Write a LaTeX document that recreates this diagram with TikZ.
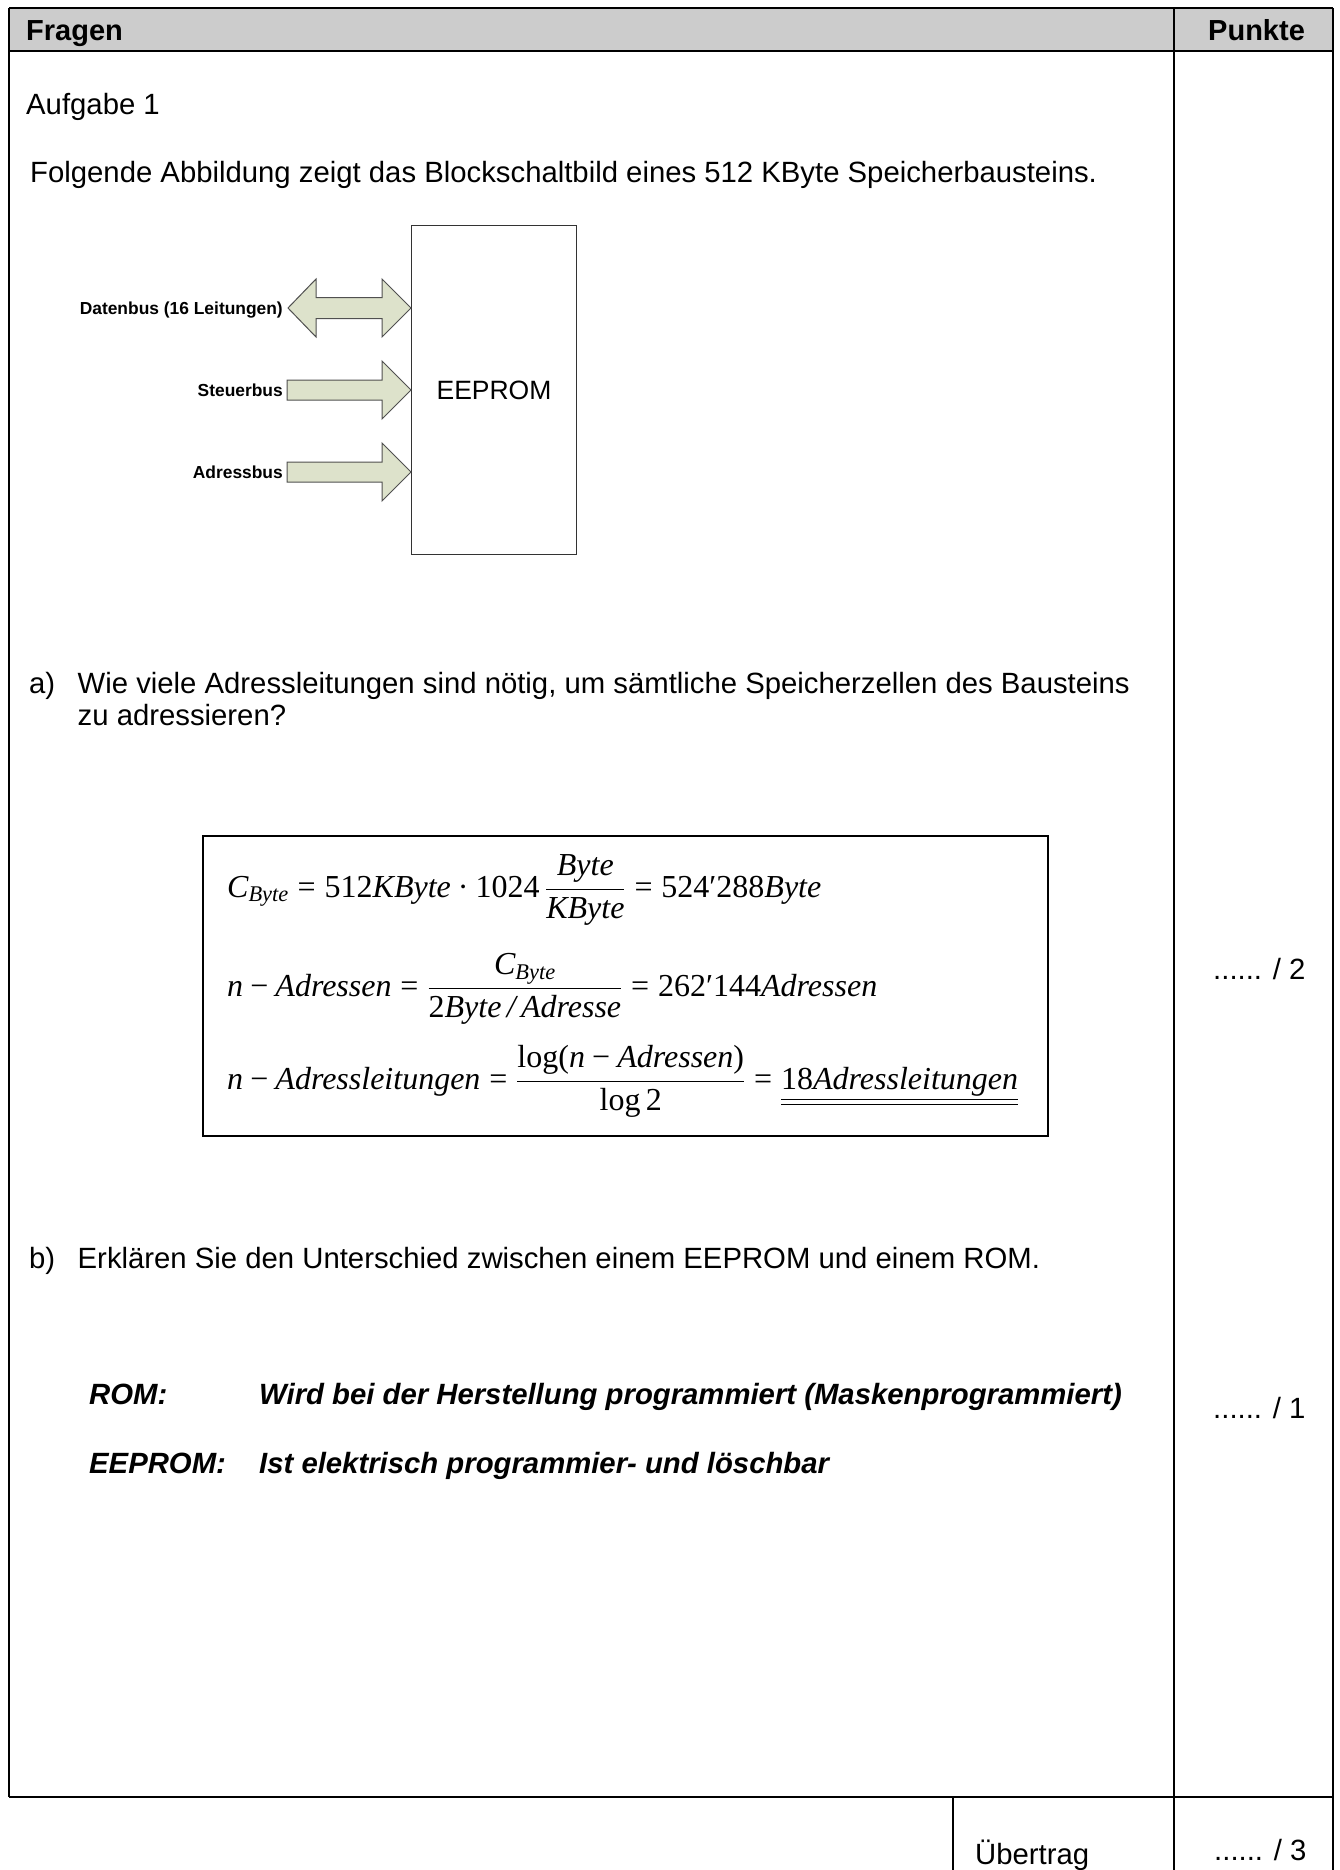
\RequirePackage{fix-cm}
\documentclass[tikz,border=0pt]{standalone}
\usepackage{amsmath}
\usepackage{fontspec}
\setmainfont{Liberation Sans}
\newfontfamily\tnr{Liberation Serif}
\newcommand\I[1]{\text{\tnr\itshape #1}}
\newcommand\R[1]{\text{\tnr #1}}
\definecolor{hdrgray}{HTML}{CCCCCC}
\definecolor{busfill}{HTML}{DDE2CB}
\definecolor{busline}{HTML}{505050}
\tikzset{
  txt/.style={inner sep=0pt, font=\fontsize{29.3}{33}\selectfont, anchor=base west},
  hdr/.style={inner sep=0pt, font=\fontsize{29}{33}\selectfont\bfseries, anchor=base west},
  lbl/.style={inner sep=0pt, font=\fontsize{17.4}{20}\selectfont\bfseries, anchor=base east},
  ans/.style={inner sep=0pt, font=\fontsize{29.3}{33}\selectfont\bfseries\itshape, anchor=base west},
  eq/.style={inner sep=0pt, font=\fontsize{32}{38}\selectfont, anchor=base west},
  bus/.style={fill=busfill, draw=busline, line width=1pt, line join=miter},
  thin/.style={line width=1.6pt},
  thick/.style={line width=2.6pt}
}
\begin{document}
\begin{tikzpicture}[x=1pt,y=-1pt]
\useasboundingbox (0,0) rectangle (1339,1870);
% table frame
\fill[hdrgray] (9,8) rectangle (1333,51);
\draw[thick] (9,8) -- (1333,8);
\draw[thin] (9,51) -- (1333,51);
\draw[thin] (9,8) -- (9,1797);
\draw[thin] (1174,8) -- (1174,1870);
\draw[thin] (1333,8) -- (1333,1870);
\draw[thick] (9,1797) -- (1333,1797);
\draw[thin] (953,1797) -- (953,1870);
% header
\node[hdr] (fragen) at (26,41) {Fragen};
\node[hdr] (punkte) at (1208,41) {Punkte};
% texts
\node[txt] (aufg) at (26,115) {Aufgabe 1};
\node[txt] (intro) at (30,183) {Folgende Abbildung zeigt das Blockschaltbild eines 512 KByte Speicherbausteins.};
% block diagram
\node[draw=black!80, line width=1pt, minimum width=165pt, minimum height=329pt, inner sep=0pt, anchor=north west] (box) at (411,225) {};
\node[inner sep=0pt, font=\fontsize{26.5}{30}\selectfont, anchor=base] (eeprom) at (494,399) {EEPROM};
\draw[bus] (288,308) -- (316,279) -- (316,297.5) -- (382,297.5) -- (382,279) -- (411,308)
  -- (382,337) -- (382,318.5) -- (316,318.5) -- (316,337) -- cycle;
\draw[bus] (287,380) -- (382,380) -- (382,361) -- (411,390) -- (382,419) -- (382,400) -- (287,400) -- cycle;
\draw[bus] (287,462) -- (382,462) -- (382,443) -- (411,472) -- (382,501) -- (382,482) -- (287,482) -- cycle;
\node[lbl] (ldaten) at (283,314) {Datenbus (16 Leitungen)};
\node[lbl] (lsteuer) at (283,396) {Steuerbus};
\node[lbl] (ladr) at (283,478) {Adressbus};
% question a
\node[txt] (qa) at (29,693) {a)};
\node[txt] (qa1) at (77.5,693) {Wie viele Adressleitungen sind nötig, um sämtliche Speicherzellen des Bausteins};
\node[txt] (qa2) at (77.5,725) {zu adressieren?};
% equation box
\draw[line width=2pt] (203,836) rectangle (1048,1136);
\node[eq] (l1) at (227,897) {$\displaystyle \I{C}_{\I{Byte}} \mathrel{\R{=}} \R{512}\I{KByte}\mathbin{\R{·}}\R{1024}\,\frac{\I{Byte}}{\I{KByte}}\mathrel{\R{=}}\R{524′288}\I{Byte}$};
\node[eq] (l2) at (227,996) {$\displaystyle \I{n}\mathbin{\R{−}}\I{Adressen}\mathrel{\R{=}}\frac{\I{C}_{\I{Byte}}}{\R{2}\I{Byte}\,\I{/}\,\I{Adresse}}\mathrel{\R{=}}\R{262′144}\I{Adressen}$};
\node[eq] (l3) at (227,1089) {$\displaystyle \I{n}\mathbin{\R{−}}\I{Adressleitungen}\mathrel{\R{=}}\frac{\R{log(}\I{n}\mathbin{\R{−}}\I{Adressen}\R{)}}{\R{log}\,\R{2}}\mathrel{\R{=}}\underline{\underline{\R{18}\I{Adressleitungen}}}$};
\node[txt] (p2) at (1213,979) {...... / 2};
% question b
\node[txt] (qb) at (29,1268) {b)};
\node[txt] (qb1) at (77.5,1268) {Erklären Sie den Unterschied zwischen einem EEPROM und einem ROM.};
\node[ans] (rom) at (89,1404) {ROM:};
\node[ans] (romt) at (259,1404) {Wird bei der Herstellung programmiert (Maskenprogrammiert)};
\node[ans] (eep) at (89,1473) {EEPROM:};
\node[ans] (eept) at (259,1473) {Ist elektrisch programmier- und löschbar};
\node[txt] (p1) at (1213,1418) {...... / 1};
% footer
\node[txt] (uebertrag) at (975,1864) {Übertrag};
\node[txt] (p3) at (1214,1860) {...... / 3};
\end{tikzpicture}
\end{document}
